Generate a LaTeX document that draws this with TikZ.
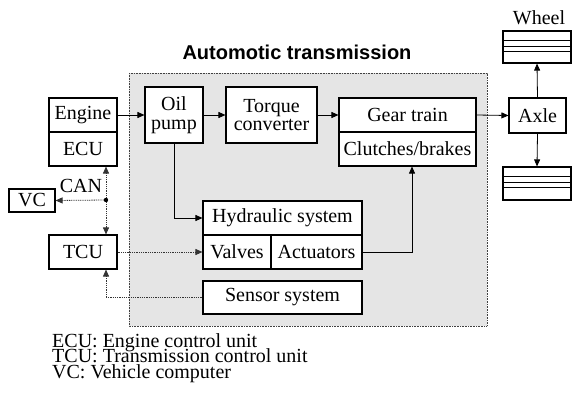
\documentclass[tikz,border=0pt]{standalone}
\usepackage{fontspec}
\setmainfont{Liberation Serif}
\newfontfamily\headfont{Liberation Sans}
\usetikzlibrary{arrows.meta}
\begin{document}
\begin{tikzpicture}[x=1pt,y=-1pt,
  every node/.style={font=\fontsize{20}{18.5}\selectfont},
  box/.style={draw, line width=1.1pt, fill=white, inner sep=0pt},
  arr/.style={line width=0.8pt, -{Triangle[length=7pt,width=6pt]}},
  darr/.style={arr, dash pattern=on 1pt off 0.8pt, black!80},
  thin line/.style={line width=0.8pt},
  legtext/.style={anchor=base west, inner sep=0pt, text height=13pt, text depth=2pt},
]
\useasboundingbox (0,0) rectangle (572,393);
% transmission region
\draw[fill=black!10, draw=black!75, line width=0.9pt, dash pattern=on 1pt off 0.6pt] (129,73) rectangle (487,326);
\node[font=\headfont\bfseries\fontsize{20}{20}\selectfont] (title) at (297,52) {Automotic transmission};

% left blocks
\node[box, minimum width=68pt, minimum height=34pt] (engine) at (83,115) {Engine};
\node[box, minimum width=68pt, minimum height=34pt] (ecu) at (83,149) {ECU};
\node[box, minimum width=68pt, minimum height=34pt] (tcu) at (83,252) {TCU};
\node[box, minimum width=46pt, minimum height=23pt] (vc) at (32,200.5) {VC};
\node (canlbl) at (81,186) {CAN};
\coordinate (can) at (106,200);

% inside transmission
\node[box, minimum width=58pt, minimum height=56pt, align=center] (oil) at (174,115) {Oil\\pump};
\node[box, minimum width=91pt, minimum height=56pt, align=center] (torque) at (271.5,115) {Torque\\converter};
\node[box, minimum width=137pt, minimum height=34pt] (gear) at (407.5,115) {Gear train};
\node[box, minimum width=137pt, minimum height=34pt] (clutch) at (407.5,149) {Clutches/brakes};
\node[box, minimum width=159pt, minimum height=34pt] (hyd) at (282.5,218) {Hydraulic system};
\node[box, minimum width=68pt, minimum height=34pt] (valves) at (237,252) {Valves};
\node[box, minimum width=91pt, minimum height=34pt] (act) at (316.5,252) {Actuators};
\node[box, minimum width=159pt, minimum height=33pt] (sensor) at (282.5,297.5) {Sensor system};

% right side
\node[box, minimum width=57pt, minimum height=35pt] (axle) at (537.5,115.5) {Axle};
\node[box, minimum width=68pt, minimum height=32pt] (wheelA) at (537,47) {};
\node[box, minimum width=68pt, minimum height=33pt] (wheelB) at (537,183.5) {};
\node[anchor=base] (wheellbl) at (539,25) {Wheel};
\foreach \d in {10,16,21}{
  \draw[thin line] ([yshift=-\d pt]wheelA.north west) -- ([yshift=-\d pt]wheelA.north east);
  \draw[thin line] ([yshift=-\d pt]wheelB.north west) -- ([yshift=-\d pt]wheelB.north east);
}

% connectors
\draw[arr] (engine.east) -- (engine.east -| oil.west);
\draw[arr] (oil.east) -- (torque.west);
\draw[arr] (torque.east) -- (gear.west);
\draw[arr] (gear.east) -- (axle.west);
\draw[arr] (axle.north) -- (wheelA.south);
\draw[arr] (axle.south) -- (wheelB.north);
\draw[arr] (oil.south) |- (hyd.west);
\draw[arr] (act.east) -| ([xshift=4.5pt]clutch.south);

\draw[darr, {Triangle[length=7pt,width=6pt]}-{Triangle[length=7pt,width=6pt]}] (can |- ecu.south) -- (can |- tcu.north);
\draw[darr] (can) -- (vc.east);
\fill (can) circle (2.2pt);
\draw[darr] (tcu.east) -- (valves.west);
\draw[darr] (sensor.west) -| (can |- tcu.south);

% legend
\node[legtext] (legA) at (52,347) {ECU: Engine control unit};
\node[legtext] (legB) at (52,362.5) {TCU: Transmission control unit};
\node[legtext] (legC) at (52,378) {VC: Vehicle computer};
\end{tikzpicture}
\end{document}
